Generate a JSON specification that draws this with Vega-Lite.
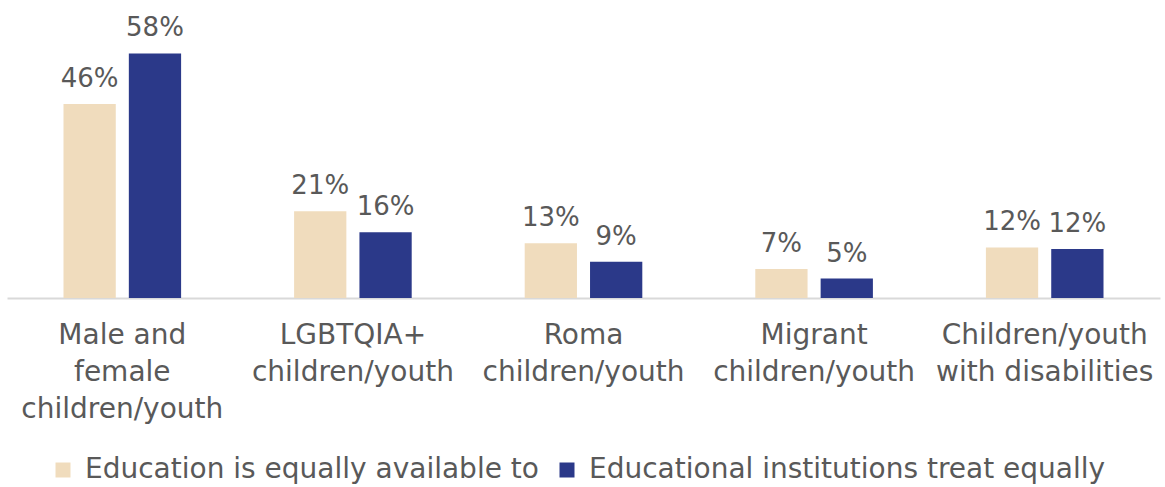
{
  "$schema": "https://vega.github.io/schema/vega-lite/v6.json",
  "autosize": "none",
  "width": 1153,
  "height": 253,
  "padding": {"left": 7, "top": 45, "right": 5, "bottom": 189},
  "background": "white",
  "config": {
    "view": {"stroke": null},
    "font": "DejaVu Sans"
  },
  "data": {
    "values": [
      {"group": "Male and|female|children/youth", "series": "Education is equally available to", "value": 0.46},
      {"group": "Male and|female|children/youth", "series": "Educational institutions treat equally", "value": 0.58},
      {"group": "LGBTQIA+|children/youth", "series": "Education is equally available to", "value": 0.206},
      {"group": "LGBTQIA+|children/youth", "series": "Educational institutions treat equally", "value": 0.156},
      {"group": "Roma|children/youth", "series": "Education is equally available to", "value": 0.13},
      {"group": "Roma|children/youth", "series": "Educational institutions treat equally", "value": 0.086},
      {"group": "Migrant|children/youth", "series": "Education is equally available to", "value": 0.069},
      {"group": "Migrant|children/youth", "series": "Educational institutions treat equally", "value": 0.046},
      {"group": "Children/youth|with disabilities", "series": "Education is equally available to", "value": 0.12},
      {"group": "Children/youth|with disabilities", "series": "Educational institutions treat equally", "value": 0.116}
    ]
  },
  "encoding": {
    "x": {
      "field": "group",
      "type": "nominal",
      "sort": null,
      "title": null,
      "scale": {"paddingInner": 0.49, "paddingOuter": 0.245},
      "axis": {
        "labelExpr": "split(datum.label, '|')",
        "labelAngle": 0,
        "labelFontSize": 28,
        "labelColor": "#595959",
        "labelLineHeight": 37,
        "labelPadding": 23,
        "labelBaseline": "top",
        "ticks": false,
        "domainColor": "#d9d9d9",
        "domainWidth": 2,
        "labelLimit": 400
      }
    },
    "xOffset": {
      "field": "series",
      "type": "nominal",
      "sort": ["Education is equally available to", "Educational institutions treat equally"],
      "scale": {"paddingInner": 0.2, "paddingOuter": 0}
    },
    "y": {
      "field": "value",
      "type": "quantitative",
      "scale": {"domain": [0, 0.6]},
      "axis": null
    }
  },
  "layer": [
    {
      "mark": {"type": "bar"},
      "encoding": {
        "color": {
          "field": "series",
          "type": "nominal",
          "sort": ["Education is equally available to", "Educational institutions treat equally"],
          "scale": {"range": ["#f0dcbd", "#2b3989"]},
          "legend": {
            "title": null,
            "orient": "none",
            "legendX": 42,
            "legendY": 411,
            "direction": "horizontal",
            "symbolType": "square",
            "symbolSize": 225,
            "symbolStrokeWidth": 0,
            "labelFontSize": 28,
            "labelColor": "#595959",
            "labelLimit": 600,
            "columnPadding": 14,
            "labelOffset": 8
          }
        }
      }
    },
    {
      "mark": {"type": "text", "baseline": "alphabetic", "dy": -17, "fontSize": 26, "color": "#595959"},
      "encoding": {
        "text": {"field": "value", "type": "quantitative", "format": ".0%"}
      }
    }
  ]
}
